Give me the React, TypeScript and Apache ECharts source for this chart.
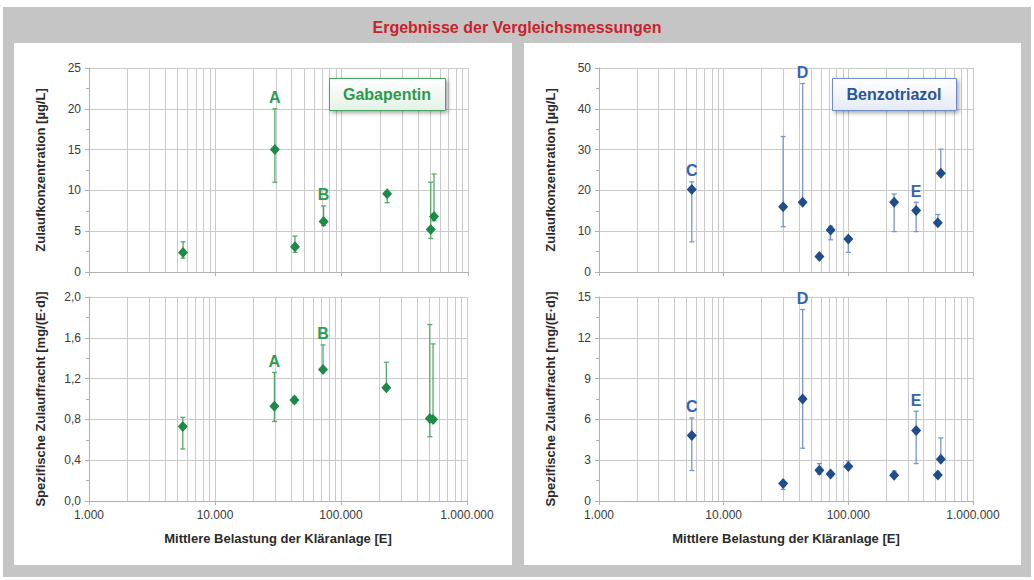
import React, { useEffect, useRef } from "react";
import * as echarts from "echarts";

// ---------- data ----------
const xMin = 1000;
const xMax = 1000000;
const logMinorTicks = [
  2000, 3000, 4000, 5000, 6000, 7000, 8000, 9000,
  20000, 30000, 40000, 50000, 60000, 70000, 80000, 90000,
  200000, 300000, 400000, 500000, 600000, 700000, 800000, 900000,
];

// Gabapentin
const gabaLoad = [5550, 29600, 42700, 72000, 229000, 507000, 538000];
const gabaConc = [2.4, 15.0, 3.1, 6.2, 9.6, 5.2, 6.8];
const gabaConcLow = [1.7, 11.0, 2.4, 5.7, 8.5, 4.1, 6.3];
const gabaConcHigh = [3.7, 20.0, 4.4, 8.1, 9.8, 11.0, 12.0];
const gabaSpec = [0.73, 0.93, 0.99, 1.29, 1.11, 0.81, 0.8];
const gabaSpecLow = [0.51, 0.78, 0.96, 1.29, 1.11, 0.63, 0.8];
const gabaSpecHigh = [0.82, 1.26, 1.02, 1.53, 1.36, 1.73, 1.54];
const gabaTags = ["", "A", "", "B", "", "", ""];

// Benzotriazol
const benzLoad = [5550, 30000, 43000, 58600, 72100, 100000, 233000, 350000, 522000, 552000];
const benzConc = [20.2, 16.0, 17.1, 3.8, 10.3, 8.1, 17.1, 15.1, 12.1, 24.2];
const benzConcLow = [7.4, 11.1, 17.1, 3.8, 7.9, 4.8, 9.9, 9.9, 11.6, 24.2];
const benzConcHigh = [22.1, 33.2, 46.2, 3.8, 11.2, 8.5, 19.1, 17.1, 14.1, 30.1];
const benzSpec = [4.82, 1.29, 7.5, 2.26, 1.99, 2.53, 1.9, 5.18, 1.92, 3.07];
const benzSpecLow = [2.24, 0.85, 3.88, 1.97, 1.9, 2.4, 1.8, 2.75, 1.85, 3.0];
const benzSpecHigh = [6.11, 1.4, 14.08, 2.75, 2.1, 2.95, 2.2, 6.6, 2.0, 4.64];
const benzTags = ["C", "", "D", "", "", "", "", "E", "", ""];

// axis ranges
const concGabaRange = { min: 0, max: 25, interval: 5 };
const specGabaRange = { min: 0, max: 2, interval: 0.4 };
const concBenzRange = { min: 0, max: 50, interval: 10 };
const specBenzRange = { min: 0, max: 15, interval: 3 };

const titleText = "Ergebnisse der Vergleichsmessungen";
const yNameConc = "Zulaufkonzentration [µg/L]";
const yNameSpec = "Spezifische Zulauffracht [mg/(E·d)]";
const xName = "Mittlere Belastung der Kläranlage [E]";

// ---------- styles ----------
const FONT = "Liberation Sans, Arial, Helvetica, sans-serif";
const GRID_COLOR = "#cacaca";
const AXIS_COLOR = "#b0b0b0";
const LABEL_COLOR = "#3a3a3a";

const GREEN = { point: "#1d8a47", bar: "#55a86c", tag: "#2c9d50", text: "#2a9a4e", border: "#4aa463", fill1: "#ffffff", fill2: "#e3f2e6" };
const BLUE = { point: "#1f4c8a", bar: "#7896cc", tag: "#3464b0", text: "#2a5599", border: "#6e8cc8", fill1: "#ffffff", fill2: "#e4eaf5" };

const dotThousands = (v: number) =>
  String(Math.round(v)).replace(/\B(?=(\d{3})+(?!\d))/g, ".");

function App() {
  const ref = useRef<HTMLDivElement>(null);

  useEffect(() => {
    if (!ref.current) return;
    const chart = echarts.init(ref.current, undefined, { renderer: "svg" });

    const grids = [
      { left: 89, top: 68, width: 379, height: 204 },
      { left: 89, top: 297, width: 378, height: 204 },
      { left: 599, top: 68, width: 374, height: 204 },
      { left: 599, top: 297, width: 374, height: 204 },
    ];

    const xAxes = grids.map((_, i) => ({
      type: "log",
      logBase: 10,
      gridIndex: i,
      min: xMin,
      max: xMax,
      name: i % 2 === 1 ? xName : "",
      nameLocation: "middle",
      nameGap: 31,
      nameTextStyle: { fontFamily: FONT, fontWeight: "bold", fontSize: 13, color: "#2b2b2b" },
      axisLine: { show: true, lineStyle: { color: AXIS_COLOR, width: 1 } },
      axisTick: { show: true, length: 4, lineStyle: { color: AXIS_COLOR } },
      axisLabel: {
        show: i % 2 === 1,
        fontFamily: FONT,
        fontSize: 12,
        color: LABEL_COLOR,
        margin: 8,
        formatter: (v: number) => dotThousands(v),
      },
      splitLine: { show: true, lineStyle: { color: GRID_COLOR, width: 1 } },
    }));

    const ranges = [concGabaRange, specGabaRange, concBenzRange, specBenzRange];
    const yFormat = [
      (v: number) => String(Math.round(v)),
      (v: number) => v.toFixed(1).replace(".", ","),
      (v: number) => String(Math.round(v)),
      (v: number) => String(Math.round(v)),
    ];
    const yAxes = grids.map((_, i) => ({
      type: "value",
      gridIndex: i,
      min: ranges[i].min,
      max: ranges[i].max,
      interval: ranges[i].interval,
      name: i % 2 === 0 ? yNameConc : yNameSpec,
      nameLocation: "middle",
      nameGap: 42,
      nameTextStyle: { fontFamily: FONT, fontWeight: "bold", fontSize: 13, color: "#2b2b2b" },
      axisLine: { show: true, lineStyle: { color: AXIS_COLOR, width: 1 } },
      axisTick: { show: true, length: 4, lineStyle: { color: AXIS_COLOR } },
      minorTick: { show: true, splitNumber: 2, length: 3, lineStyle: { color: AXIS_COLOR } },
      axisLabel: { fontFamily: FONT, fontSize: 12, color: LABEL_COLOR, margin: 8, formatter: yFormat[i] },
      splitLine: { show: true, lineStyle: { color: GRID_COLOR, width: 1 } },
    }));

    const minorGridSeries = (gi: number) => ({
      type: "custom",
      xAxisIndex: gi,
      yAxisIndex: gi,
      silent: true,
      z: 1,
      data: logMinorTicks.map((t) => [t, 0]),
      renderItem: (params: any, api: any) => {
        const cs = params.coordSys;
        const p = api.coord([api.value(0), 0]);
        const x = Math.round(p[0]) + 0.5;
        return {
          type: "line",
          shape: { x1: x, y1: cs.y, x2: x, y2: cs.y + cs.height },
          style: { stroke: GRID_COLOR, lineWidth: 1 },
        };
      },
    });

    const errorSeries = (gi: number, xs: number[], lo: number[], hi: number[], tags: string[], col: any) => ({
      type: "custom",
      xAxisIndex: gi,
      yAxisIndex: gi,
      silent: true,
      z: 3,
      encode: { x: 0, y: [1, 2] },
      data: xs.map((x, i) => [x, lo[i], hi[i]]),
      renderItem: (params: any, api: any) => {
        const x = api.value(0);
        const pl = api.coord([x, api.value(1)]);
        const ph = api.coord([x, api.value(2)]);
        const cx = pl[0];
        const children: any[] = [
          { type: "line", shape: { x1: cx, y1: pl[1], x2: cx, y2: ph[1] }, style: { stroke: col.bar, lineWidth: 1.3 } },
          { type: "line", shape: { x1: cx - 2.5, y1: pl[1], x2: cx + 2.5, y2: pl[1] }, style: { stroke: col.bar, lineWidth: 1.3 } },
          { type: "line", shape: { x1: cx - 2.5, y1: ph[1], x2: cx + 2.5, y2: ph[1] }, style: { stroke: col.bar, lineWidth: 1.3 } },
        ];
        const tag = tags[params.dataIndex];
        if (tag) {
          children.push({
            type: "text",
            x: cx,
            y: ph[1] - 11,
            style: {
              text: tag,
              fill: col.tag,
              font: `bold 16px ${FONT}`,
              align: "center",
              verticalAlign: "middle",
            },
          });
        }
        return { type: "group", children };
      },
    });

    const pointSeries = (gi: number, name: string, xs: number[], ys: number[], col: any) => ({
      type: "scatter",
      name,
      xAxisIndex: gi,
      yAxisIndex: gi,
      z: 4,
      symbol: "diamond",
      symbolSize: [10, 11],
      itemStyle: { color: col.point, opacity: 1 },
      data: xs.map((x, i) => [x, ys[i]]),
    });

    const legendBox = (left: number, top: number, w: number, h: number, text: string, col: any) => [
      {
        type: "rect",
        left,
        top,
        z: 100,
        shape: { x: 0, y: 0, width: w, height: h },
        style: {
          fill: {
            type: "linear",
            x: 0,
            y: 0,
            x2: 0,
            y2: 1,
            colorStops: [
              { offset: 0, color: col.fill1 },
              { offset: 1, color: col.fill2 },
            ],
          },
          stroke: col.border,
          lineWidth: 1,
          shadowBlur: 4,
          shadowOffsetX: 2,
          shadowOffsetY: 2,
          shadowColor: "rgba(0,0,0,0.35)",
        },
      },
      {
        type: "text",
        x: left + w / 2,
        y: top + h / 2,
        z: 101,
        style: {
          text,
          fill: col.text,
          font: `bold 16px ${FONT}`,
          align: "center",
          verticalAlign: "middle",
        },
      },
    ];

    const option: any = {
      animation: false,
      textStyle: { fontFamily: FONT },
      title: {
        text: titleText,
        left: "center",
        top: 19,
        padding: 0,
        textStyle: { color: "#c8232b", fontFamily: FONT, fontWeight: "bold", fontSize: 16 },
      },
      grid: grids,
      xAxis: xAxes,
      yAxis: yAxes,
      graphic: [
        ...legendBox(329, 78, 116, 32, "Gabapentin", GREEN),
        ...legendBox(832, 78, 124, 32, "Benzotriazol", BLUE),
      ],
      series: [
        minorGridSeries(0),
        minorGridSeries(1),
        minorGridSeries(2),
        minorGridSeries(3),
        errorSeries(0, gabaLoad, gabaConcLow, gabaConcHigh, gabaTags, GREEN),
        pointSeries(0, "Gabapentin Zulaufkonzentration", gabaLoad, gabaConc, GREEN),
        errorSeries(1, gabaLoad, gabaSpecLow, gabaSpecHigh, gabaTags, GREEN),
        pointSeries(1, "Gabapentin spezifische Zulauffracht", gabaLoad, gabaSpec, GREEN),
        errorSeries(2, benzLoad, benzConcLow, benzConcHigh, benzTags, BLUE),
        pointSeries(2, "Benzotriazol Zulaufkonzentration", benzLoad, benzConc, BLUE),
        errorSeries(3, benzLoad, benzSpecLow, benzSpecHigh, benzTags, BLUE),
        pointSeries(3, "Benzotriazol spezifische Zulauffracht", benzLoad, benzSpec, BLUE),
      ],
    };

    chart.setOption(option);
    return () => chart.dispose();
  }, []);

  return (
    <div style={{ position: "fixed", left: 0, top: 0, width: 1034, height: 580, background: "#ffffff", overflow: "hidden" }}>
      <div style={{ position: "absolute", left: 3, top: 7, width: 1028, height: 570, background: "#c5c5c5" }} />
      <div style={{ position: "absolute", left: 14, top: 43, width: 498, height: 522, background: "#ffffff" }} />
      <div style={{ position: "absolute", left: 524, top: 43, width: 497, height: 522, background: "#ffffff" }} />
      <div ref={ref} style={{ position: "absolute", left: 0, top: 0, width: 1034, height: 580 }} />
    </div>
  );
}

export default App;
